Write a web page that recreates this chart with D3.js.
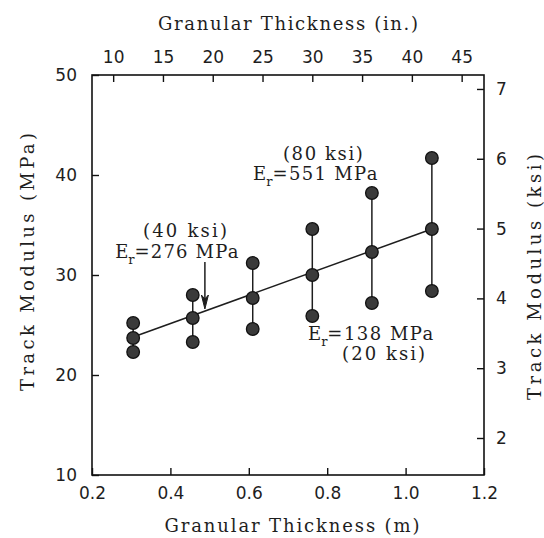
<!DOCTYPE html>
<html>
<head>
<meta charset="utf-8">
<script src="https://cdn.jsdelivr.net/npm/d3@7"></script>
<style>
  body { margin: 0; background: #fff; }
  svg { display: block; }
</style>
</head>
<body>
<svg id="chart"></svg>
<script>

// thickness of granular layer (m), one column of points each
var thickness = [0.305, 0.457, 0.610, 0.762, 0.914, 1.067]
// track modulus (MPa)
var modHigh = [25.2, 28.0, 31.2, 34.6, 38.2, 41.7]
var modMid  = [23.7, 25.7, 27.7, 30.0, 32.3, 34.6]
var modLow  = [22.3, 23.3, 24.6, 25.9, 27.2, 28.4]
// straight line through the middle points
var fitX = [0.305, 1.067]
var fitY = [23.8, 34.6]

var xTicks = [0.2, 0.4, 0.6, 0.8, 1.0, 1.2]
var inTicks = [10, 15, 20, 25, 30, 35, 40, 45]
var yTicks = [10, 20, 30, 40, 50]
var ksiTicks = [2, 3, 4, 5, 6, 7]

// annotations: [x (m), y (MPa), text, subscript?]
var notes = [
  [0.330, 33.8, "(40 ksi)", false],
  [0.259, 31.7, "=276 MPa", true],
  [0.687, 41.5, "(80 ksi)", false],
  [0.611, 39.5, "=551 MPa", true],
  [0.751, 23.5, "=138 MPa", true],
  [0.838, 21.5, "(20 ksi)", false]
]
var noteWidths = [84, 104, 80, 105, 106, 83]
var arrowX = 0.488
var arrowY = [31.3, 26.6]

var dimensions = {
    width: 544,
    height: 538,
    margin: { top: 75, bottom: 63, left: 92, right: 60 }
}

var svg = d3.select("#chart")
            .attr("width", dimensions.width)
            .attr("height", dimensions.height)

var plotL = dimensions.margin.left
var plotR = dimensions.width - dimensions.margin.right
var plotT = dimensions.margin.top
var plotB = dimensions.height - dimensions.margin.bottom

var xScale = d3.scaleLinear().domain([0.2, 1.2]).range([plotL, plotR])
var inScale = d3.scaleLinear().domain([0.2 / 0.0254, 1.2 / 0.0254]).range([plotL, plotR])
var yScale = d3.scaleLinear().domain([10, 50]).range([plotB, plotT])
var ksiScale = d3.scaleLinear().domain([1.47, 7.2]).range([plotB, plotT])

var serif = "DejaVu Serif"
var sans = "DejaVu Sans"
var ink = "#1e1e1e"

// frame
svg.append("rect")
   .attr("x", plotL).attr("y", plotT)
   .attr("width", plotR - plotL).attr("height", plotB - plotT)
   .attr("fill", "none").attr("stroke", "#111").attr("stroke-width", 1.6)

function styleAxis(g) {
    g.select(".domain").remove()
    g.selectAll("line").attr("stroke", "#111").attr("stroke-width", 1.4)
    g.selectAll("text").attr("fill", ink).style("font-family", sans).style("font-size", "17px")
}

svg.append("g")
   .attr("transform", `translate(0,${plotB})`)
   .call(d3.axisBottom(xScale).tickValues(xTicks).tickFormat(d3.format(".1f"))
           .tickSizeInner(-7).tickSizeOuter(0).tickPadding(12))
   .call(styleAxis)

svg.append("g")
   .attr("transform", `translate(0,${plotT})`)
   .call(d3.axisTop(inScale).tickValues(inTicks)
           .tickSizeInner(-7).tickSizeOuter(0).tickPadding(12))
   .call(styleAxis)

svg.append("g")
   .attr("transform", `translate(${plotL},0)`)
   .call(d3.axisLeft(yScale).tickValues(yTicks)
           .tickSizeInner(-7).tickSizeOuter(0).tickPadding(15))
   .call(styleAxis)

svg.append("g")
   .attr("transform", `translate(${plotR},0)`)
   .call(d3.axisRight(ksiScale).tickValues(ksiTicks).tickFormat(d3.format("d"))
           .tickSizeInner(-7).tickSizeOuter(0).tickPadding(12))
   .call(styleAxis)

// axis titles
function title(transform, label, len) {
    svg.append("text")
       .attr("transform", transform)
       .attr("text-anchor", "middle")
       .attr("textLength", len).attr("lengthAdjust", "spacing")
       .style("font-family", serif).style("font-size", "18px").attr("fill", ink)
       .text(label)
}
title("translate(288,30)", "Granular Thickness (in.)", 260)
title("translate(292,532)", "Granular Thickness (m)", 255)
title("translate(34,262) rotate(-90)", "Track Modulus (MPa)", 258)
title("translate(541,277) rotate(-90)", "Track Modulus (ksi)", 246)

// fitted line
svg.append("line")
   .attr("x1", xScale(fitX[0])).attr("y1", yScale(fitY[0]))
   .attr("x2", xScale(fitX[1])).attr("y2", yScale(fitY[1]))
   .attr("stroke", ink).attr("stroke-width", 1.5)

// vertical range lines
svg.selectAll(".range")
   .data(thickness)
   .enter()
   .append("line")
   .attr("class", "range")
   .attr("x1", d => xScale(d)).attr("x2", d => xScale(d))
   .attr("y1", (d, i) => yScale(modLow[i]))
   .attr("y2", (d, i) => yScale(modHigh[i]))
   .attr("stroke", ink).attr("stroke-width", 1.5)

var pts = []
for (var i = 0; i < thickness.length; i++) {
    pts.push([thickness[i], modHigh[i]])
    pts.push([thickness[i], modMid[i]])
    pts.push([thickness[i], modLow[i]])
}

svg.selectAll(".pt")
   .data(pts)
   .enter()
   .append("circle")
   .attr("class", "pt")
   .attr("cx", d => xScale(d[0]))
   .attr("cy", d => yScale(d[1]))
   .attr("r", 6.3)
   .attr("fill", "#3a3a3a")
   .attr("stroke", "#111")
   .attr("stroke-width", 1.3)

// annotations
notes.forEach(function(n, k) {
    var t = svg.append("text")
               .attr("x", xScale(n[0])).attr("y", yScale(n[1]))
               .style("font-family", serif).style("font-size", "18px").attr("fill", ink)
    if (n[3]) {
        t.append("tspan").text("E")
        t.append("tspan").attr("dy", 6).style("font-size", "13px").text("r")
        t.append("tspan").attr("dy", -6)
         .attr("textLength", noteWidths[k]).attr("lengthAdjust", "spacing")
         .text(n[2])
    } else {
        t.attr("textLength", noteWidths[k]).attr("lengthAdjust", "spacing").text(n[2])
    }
})

// arrow
var ax = xScale(arrowX)
var tipY = yScale(arrowY[1])
svg.append("line")
   .attr("x1", ax).attr("x2", ax)
   .attr("y1", yScale(arrowY[0])).attr("y2", tipY - 6)
   .attr("stroke", ink).attr("stroke-width", 1.5)
svg.append("path")
   .attr("d", `M${ax - 3.5},${tipY - 14} L${ax},${tipY} L${ax + 3.5},${tipY - 14} L${ax},${tipY - 10} Z`)
   .attr("fill", ink).attr("stroke", ink).attr("stroke-width", 1)

</script>
</body>
</html>
